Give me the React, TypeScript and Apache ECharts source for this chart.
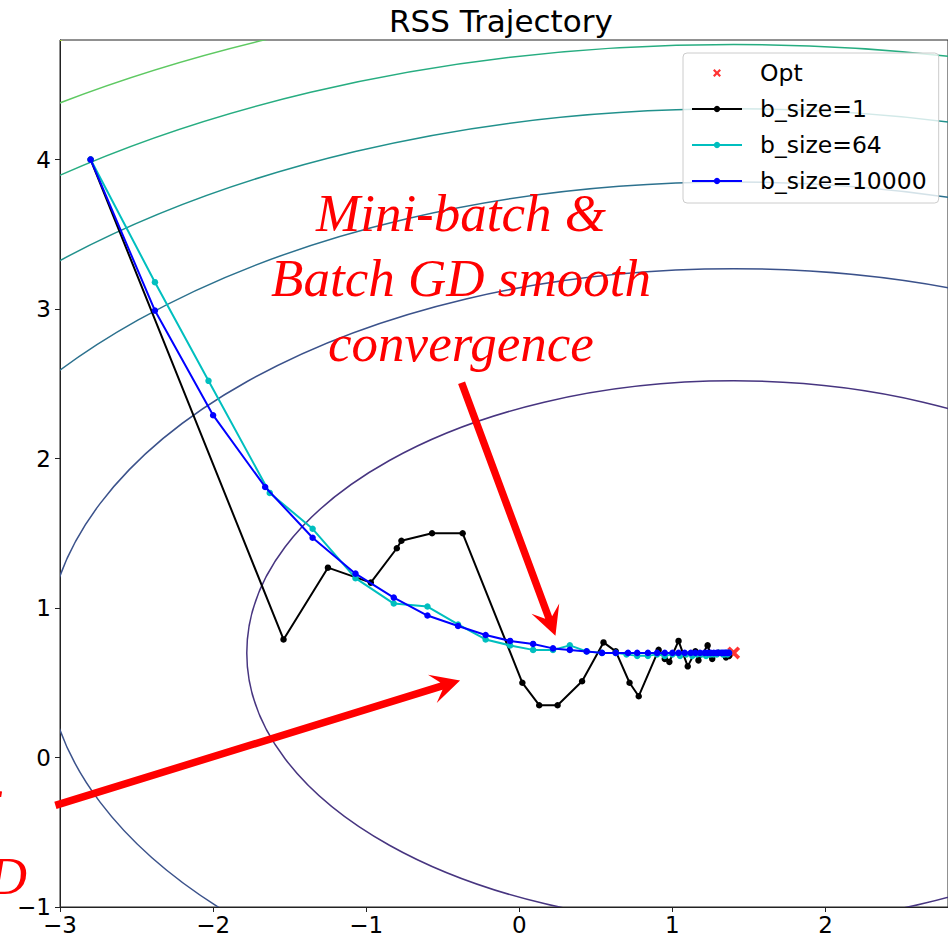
import React, { useEffect, useRef } from "react";
import * as echarts from "echarts";

// Axis ticks
const X_TICKS = [-3, -2, -1, 0, 1, 2];
const Y_TICKS = [-1, 0, 1, 2, 3, 4];

// Optimum of the RSS surface
const OPT_POINT = [1.4, 0.7];

// RSS contour ellipses (semi-axes in data units, one per level) and level colours
const CONTOUR_RX = [3.18, 4.49, 5.5, 6.35, 7.1, 7.78, 8.39];
const CONTOUR_RY = [1.82, 2.57, 3.15, 3.64, 4.07, 4.46, 4.81];
const CONTOUR_COLORS = ["#473580", "#3b528b", "#2c718e", "#21918c", "#27ad81", "#5ec962", "#aadc32"];

// b_size = 1 (SGD)
const SGD_X = [-2.8, -1.54, -1.25, -0.97, -0.8, -0.77, -0.57, -0.37, 0.02, 0.13, 0.25, 0.41, 0.55, 0.63, 0.72, 0.78, 0.91, 0.95, 0.98, 1.04, 1.1, 1.15, 1.17, 1.23, 1.26, 1.3, 1.35, 1.37];
const SGD_Y = [4.0, 0.79, 1.27, 1.17, 1.4, 1.45, 1.5, 1.5, 0.5, 0.35, 0.35, 0.51, 0.77, 0.71, 0.5, 0.41, 0.72, 0.66, 0.64, 0.78, 0.61, 0.71, 0.65, 0.75, 0.66, 0.7, 0.67, 0.68];

// b_size = 64 (mini-batch)
const MINI_X = [-2.8, -2.38, -2.03, -1.63, -1.35, -1.07, -0.82, -0.6, -0.4, -0.22, -0.06, 0.09, 0.22, 0.33, 0.44, 0.54, 0.63, 0.7, 0.77, 0.84, 0.9, 0.95, 1.0, 1.05, 1.09, 1.13, 1.16, 1.19, 1.22, 1.25, 1.27, 1.29, 1.31, 1.33, 1.34, 1.35, 1.36, 1.37];
const MINI_Y = [4.0, 3.18, 2.52, 1.77, 1.53, 1.2, 1.03, 1.01, 0.89, 0.79, 0.75, 0.72, 0.72, 0.75, 0.71, 0.7, 0.7, 0.69, 0.68, 0.68, 0.69, 0.68, 0.69, 0.68, 0.69, 0.68, 0.69, 0.69, 0.68, 0.69, 0.69, 0.69, 0.7, 0.69, 0.69, 0.7, 0.69, 0.7];

// b_size = 10000 (batch)
const BATCH_X = [-2.8, -2.38, -2.0, -1.66, -1.35, -1.07, -0.82, -0.6, -0.4, -0.22, -0.06, 0.09, 0.22, 0.33, 0.44, 0.54, 0.63, 0.71, 0.77, 0.84, 0.9, 0.95, 1.0, 1.04, 1.08, 1.12, 1.15, 1.18, 1.21, 1.23, 1.25, 1.27, 1.29, 1.3, 1.32, 1.33, 1.34, 1.35, 1.36, 1.37];
const BATCH_Y = [4.0, 2.99, 2.29, 1.81, 1.47, 1.23, 1.07, 0.95, 0.88, 0.82, 0.78, 0.76, 0.73, 0.72, 0.71, 0.7, 0.7, 0.7, 0.7, 0.7, 0.7, 0.7, 0.7, 0.7, 0.7, 0.7, 0.7, 0.7, 0.7, 0.7, 0.7, 0.7, 0.7, 0.7, 0.7, 0.7, 0.7, 0.7, 0.7, 0.7];

// Annotation arrows: [fromX, fromY, toX, toY]
const ARROWS = [
  [-0.377, 2.507, 0.236, 0.814],
  [-3.03, -0.32, -0.387, 0.516],
];

const FONT = '"DejaVu Sans", sans-serif';
const SERIF = '"Liberation Serif", "Times New Roman", serif';

const zip = (xs: number[], ys: number[]) => xs.map((x, i) => [x, ys[i]]);
const fmt = (v: number) => (v < 0 ? "\u2212" + Math.abs(v) : String(v));

// filled "X" marker
const X_MARK = "path://M0,2 L2,0 L5,3 L8,0 L10,2 L7,5 L10,8 L8,10 L5,7 L2,10 L0,8 L3,5 Z";

export default function App() {
  const ref = useRef<HTMLDivElement>(null);

  useEffect(() => {
    document.body.style.margin = "0";
    const chart = echarts.init(ref.current!, null, { renderer: "svg" });

    const lineSeries = (name: string, color: string, xs: number[], ys: number[], z: number) => ({
      name,
      type: "line",
      data: zip(xs, ys),
      z,
      color,
      symbol: "circle",
      symbolSize: 6.5,
      showAllSymbol: true,
      lineStyle: { color, width: 2 },
      itemStyle: { color },
      emphasis: { disabled: true },
    });

    chart.setOption({
      animation: false,
      title: {
        text: "RSS Trajectory",
        left: 389,
        top: 5,
        padding: 0,
        textStyle: { fontFamily: FONT, fontSize: 31, fontWeight: "normal", color: "#000" },
      },
      grid: {
        left: 60,
        top: 40,
        width: 889,
        height: 867,
        show: true,
        borderColor: "#222",
        borderWidth: 1,
        backgroundColor: "transparent",
      },
      legend: {
        orient: "vertical",
        left: 683,
        top: 53,
        padding: [7, 12, 9, 8],
        itemWidth: 50,
        itemHeight: 8,
        itemGap: 10,
        backgroundColor: "rgba(255,255,255,0.8)",
        borderColor: "#cccccc",
        borderWidth: 1,
        borderRadius: 4,
        textStyle: { fontFamily: FONT, fontSize: 23.5, color: "#000", lineHeight: 26, padding: [0, 0, 0, 13] },
        data: ["Opt", "b_size=1", "b_size=64", "b_size=10000"],
      },
      xAxis: {
        type: "value",
        min: -3,
        max: 2.8,
        interval: 1,
        splitLine: { show: false },
        axisLine: { show: true, onZero: false, lineStyle: { color: "#222", width: 1 } },
        axisTick: { show: true, length: 5, customValues: X_TICKS, lineStyle: { color: "#222" } },
        axisLabel: {
          customValues: X_TICKS,
          formatter: fmt,
          fontFamily: FONT,
          fontSize: 23,
          color: "#000",
          margin: 6,
        },
      },
      yAxis: {
        type: "value",
        min: -1,
        max: 4.8,
        interval: 1,
        splitLine: { show: false },
        axisLine: { show: true, onZero: false, lineStyle: { color: "#222", width: 1 } },
        axisTick: { show: true, length: 5, customValues: Y_TICKS, lineStyle: { color: "#222" } },
        axisLabel: {
          customValues: Y_TICKS,
          formatter: fmt,
          fontFamily: FONT,
          fontSize: 23,
          color: "#000",
          margin: 9,
        },
      },
      series: [
        {
          name: "contours",
          type: "custom",
          clip: true,
          silent: true,
          z: 1,
          data: CONTOUR_RX.map((rx, i) => [rx, CONTOUR_RY[i], i]),
          renderItem: (params: any, api: any) => {
            const i = api.value(2);
            const c = api.coord(OPT_POINT);
            const rx = api.size([api.value(0), 0])[0];
            const ry = api.size([0, api.value(1)])[1];
            return {
              type: "ellipse",
              shape: { cx: c[0], cy: c[1], rx, ry },
              style: { fill: "none", stroke: CONTOUR_COLORS[i], lineWidth: 1.5 },
            };
          },
        },
        {
          name: "Opt",
          type: "scatter",
          data: [OPT_POINT],
          symbol: X_MARK,
          symbolSize: 13,
          z: 2,
          itemStyle: { color: "#ff0000" },
          emphasis: { disabled: true },
        },
        lineSeries("b_size=1", "#000000", SGD_X, SGD_Y, 3),
        lineSeries("b_size=64", "#00bfbf", MINI_X, MINI_Y, 4),
        lineSeries("b_size=10000", "#0000ff", BATCH_X, BATCH_Y, 5),
        {
          name: "arrows",
          type: "custom",
          clip: false,
          silent: true,
          z: 10,
          data: ARROWS,
          renderItem: (params: any, api: any) => {
            const p0 = api.coord([api.value(0), api.value(1)]);
            const p1 = api.coord([api.value(2), api.value(3)]);
            const dx = p1[0] - p0[0];
            const dy = p1[1] - p0[1];
            const len = Math.hypot(dx, dy);
            const ux = dx / len, uy = dy / len;
            const nx = -uy, ny = ux;
            const hw = 3.7, back = 29, notch = 19.5, wing = 14.8;
            const at = (along: number, off: number) => [p1[0] + ux * along + nx * off, p1[1] + uy * along + ny * off];
            const points = [
              [p0[0] + nx * hw, p0[1] + ny * hw],
              at(-notch, hw),
              at(-back, wing),
              [p1[0], p1[1]],
              at(-back, -wing),
              at(-notch, -hw),
              [p0[0] - nx * hw, p0[1] - ny * hw],
            ];
            return { type: "polygon", shape: { points }, style: { fill: "#ff0000", stroke: "none" } };
          },
        },
      ],
      graphic: [
        {
          type: "text",
          z: 20,
          x: 461,
          y: 180,
          style: {
            text: "Mini-batch &\nBatch GD smooth\nconvergence",
            fill: "#ff0000",
            fontFamily: SERIF,
            fontStyle: "italic",
            fontSize: 53,
            lineHeight: 65,
            align: "center",
            verticalAlign: "top",
          },
        },
        {
          type: "text",
          z: 20,
          x: -4,
          y: 790,
          style: {
            text: "Noisy path of",
            fill: "#ff0000",
            fontFamily: SERIF,
            fontStyle: "italic",
            fontSize: 53,
            lineHeight: 41,
            align: "right",
            verticalAlign: "top",
          },
        },
        {
          type: "text",
          z: 20,
          x: 27,
          y: 855.5,
          style: {
            text: "SGD",
            fill: "#ff0000",
            fontFamily: SERIF,
            fontStyle: "italic",
            fontSize: 53,
            lineHeight: 40,
            align: "right",
            verticalAlign: "top",
          },
        },
      ],
    });

    return () => chart.dispose();
  }, []);

  return <div ref={ref} style={{ width: 948, height: 937 }} />;
}
